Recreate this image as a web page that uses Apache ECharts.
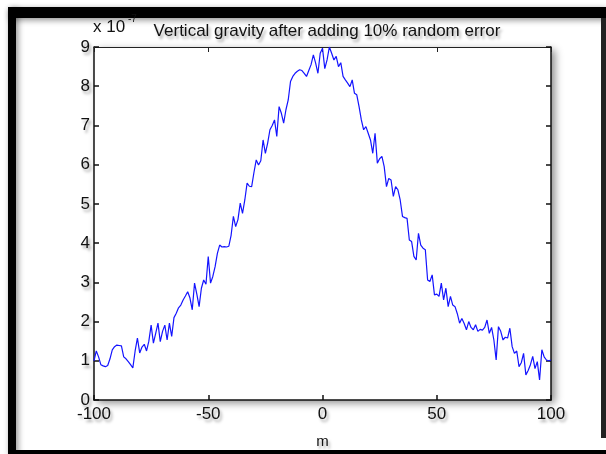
<!DOCTYPE html>
<html><head><meta charset="utf-8">
<script src="https://cdn.jsdelivr.net/npm/echarts/dist/echarts.min.js"></script>
<style>html,body{margin:0;padding:0;background:#fff}#c{width:606px;height:454px}</style>
</head><body><div id="c"></div>
<script>
// ---- data ----
const distance = [
  -100,-99,-98,-97,-96,-95,-94,-93,-92,-91,-90,-89,-88,-87,-86,-85,-84,-83,-82,-81,
  -80,-79,-78,-77,-76,-75,-74,-73,-72,-71,-70,-69,-68,-67,-66,-65,-64,-63,-62,-61,
  -60,-59,-58,-57,-56,-55,-54,-53,-52,-51,-50,-49,-48,-47,-46,-45,-44,-43,-42,-41,
  -40,-39,-38,-37,-36,-35,-34,-33,-32,-31,-30,-29,-28,-27,-26,-25,-24,-23,-22,-21,
  -20,-19,-18,-17,-16,-15,-14,-13,-12,-11,-10,-9,-8,-7,-6,-5,-4,-3,-2,-1,
  0,1,2,3,4,5,6,7,8,9,10,11,12,13,14,15,16,17,18,19,
  20,21,22,23,24,25,26,27,28,29,30,31,32,33,34,35,36,37,38,39,
  40,41,42,43,44,45,46,47,48,49,50,51,52,53,54,55,56,57,58,59,
  60,61,62,63,64,65,66,67,68,69,70,71,72,73,74,75,76,77,78,79,
  80,81,82,83,84,85,86,87,88,89,90,91,92,93,94,95,96,97,98,99,100
];
const gravity = [
  1.00,1.25,1.10,0.90,0.87,0.85,0.88,1.05,1.28,1.36,1.40,1.39,1.38,1.10,1.05,0.98,0.90,0.82,1.25,1.58,
  1.20,1.35,1.42,1.25,1.50,1.91,1.45,1.70,1.96,1.49,1.75,1.91,1.53,1.96,1.62,2.10,2.21,2.35,2.42,2.55,
  2.65,2.76,2.60,2.30,2.98,2.70,2.38,2.85,3.06,2.95,3.66,2.98,3.15,3.40,3.74,3.95,3.90,3.91,3.90,3.92,
  4.20,4.68,4.42,4.60,5.02,4.76,5.10,5.53,5.45,5.44,5.80,6.12,5.99,6.10,6.63,6.29,6.55,6.89,7.00,7.14,
  6.72,7.48,7.31,7.06,7.40,7.65,8.12,8.25,8.33,8.38,8.42,8.40,8.33,8.25,8.40,8.55,8.80,8.59,8.33,8.84,
  8.97,8.45,8.67,9.00,8.84,8.67,8.76,8.50,8.60,8.25,8.16,8.08,7.99,8.16,7.82,7.78,7.48,7.14,6.89,6.97,
  6.80,6.63,6.29,6.80,6.04,6.15,6.21,5.95,5.44,5.65,5.61,5.19,5.44,5.36,5.10,4.68,4.65,4.63,4.08,4.04,
  3.66,3.57,4.25,3.95,3.87,3.83,3.06,3.02,3.19,2.68,2.70,2.64,2.98,2.55,2.85,2.38,2.64,2.42,2.38,2.20,
  1.96,2.08,1.95,1.79,2.00,1.85,1.79,1.92,1.75,1.80,1.78,1.85,2.04,1.70,1.85,1.53,1.02,1.87,1.75,1.53,
  1.60,1.58,1.83,1.36,1.19,1.25,0.85,0.95,1.19,0.64,0.75,0.90,1.11,0.80,0.98,0.51,1.28,1.10,1.02,1.00,1.02
];
const titleText = 'Vertical gravity after adding 10% random error';
const multiplierBase = 'x 10';
const multiplierExp = '-7';
const xAxisName = 'm';

// ---- chart ----
const chart = echarts.init(document.getElementById('c'), null, {renderer: 'canvas'});
const FONT = 'Liberation Sans, Arial, sans-serif';
const shadow = {textShadowColor: 'rgba(0,0,0,0.35)', textShadowBlur: 3, textShadowOffsetX: 2, textShadowOffsetY: 3};
const axisLineStyle = {color: '#111', width: 1.5};
const labelStyle = Object.assign({fontFamily: FONT, fontSize: 17, color: '#111'}, shadow);

const frameShadow = {shadowColor: 'rgba(0,0,0,0.45)', shadowBlur: 6, shadowOffsetX: 2, shadowOffsetY: 2};

chart.setOption({
  animation: false,
  backgroundColor: '#fff',
  title: {
    text: titleText, left: 322, top: 18, textAlign: 'center',
    textStyle: Object.assign({fontFamily: FONT, fontSize: 17, fontWeight: 'normal', color: '#111'}, shadow)
  },
  graphic: [
    {type: 'rect', shape: {x: 8, y: 7, width: 598, height: 11}, style: Object.assign({fill: '#000'}, frameShadow), silent: true},
    {type: 'rect', shape: {x: 8, y: 7, width: 8, height: 447}, style: Object.assign({fill: '#000'}, frameShadow), silent: true},
    {type: 'rect', shape: {x: 8, y: 450, width: 598, height: 4}, style: {fill: '#000'}, silent: true},
    {type: 'rect', shape: {x: 601, y: 18, width: 5, height: 420}, style: {fill: '#222'}, silent: true},
    {type: 'text', left: 93, top: 19, style: Object.assign({text: multiplierBase, font: '17px ' + FONT, fill: '#111'}, {shadowColor: 'rgba(0,0,0,0.35)', shadowBlur: 3, shadowOffsetX: 2, shadowOffsetY: 3})},
    {type: 'text', left: 128, top: 14, style: Object.assign({text: multiplierExp, font: '10px ' + FONT, fill: '#111'}, {shadowColor: 'rgba(0,0,0,0.35)', shadowBlur: 3, shadowOffsetX: 2, shadowOffsetY: 3})}
  ],
  grid: {
    left: 94, right: 55, top: 47, bottom: 54, containLabel: false, outerBoundsMode: 'none',
    show: true, backgroundColor: '#fff', borderWidth: 0,
    shadowColor: 'rgba(0,0,0,0.45)', shadowBlur: 8, shadowOffsetX: 4, shadowOffsetY: 3
  },
  xAxis: [
    {
      type: 'value', min: -100, max: 100, interval: 50, position: 'bottom',
      name: xAxisName, nameLocation: 'middle', nameGap: 34,
      nameTextStyle: Object.assign({fontFamily: FONT, fontSize: 15, color: '#111'}, shadow),
      axisLine: {show: true, onZero: false, lineStyle: axisLineStyle},
      axisTick: {show: true, inside: true, length: 5, lineStyle: axisLineStyle},
      axisLabel: Object.assign({margin: 6}, labelStyle),
      splitLine: {show: false}
    },
    {
      type: 'value', min: -100, max: 100, interval: 50, position: 'top',
      axisLine: {show: true, onZero: false, lineStyle: {color: '#222', width: 1}},
      axisTick: {show: true, inside: true, length: 5, lineStyle: {color: '#222', width: 1}},
      axisLabel: {show: false}, splitLine: {show: false}
    }
  ],
  yAxis: [
    {
      type: 'value', min: 0, max: 9, interval: 1, position: 'left',
      axisLine: {show: true, onZero: false, lineStyle: axisLineStyle},
      axisTick: {show: true, inside: true, length: 5, lineStyle: axisLineStyle},
      axisLabel: Object.assign({margin: 4}, labelStyle),
      splitLine: {show: false}
    },
    {
      type: 'value', min: 0, max: 9, interval: 1, position: 'right',
      axisLine: {show: true, onZero: false, lineStyle: axisLineStyle},
      axisTick: {show: true, inside: true, length: 5, lineStyle: axisLineStyle},
      axisLabel: {show: false}, splitLine: {show: false}
    }
  ],
  series: [{
    type: 'line',
    data: distance.map((d, i) => [d, gravity[i]]),
    xAxisIndex: 0, yAxisIndex: 0,
    showSymbol: false, symbol: 'none',
    lineStyle: {color: '#1414ff', width: 1.2},
    z: 5
  }]
});
</script>
</body></html>
